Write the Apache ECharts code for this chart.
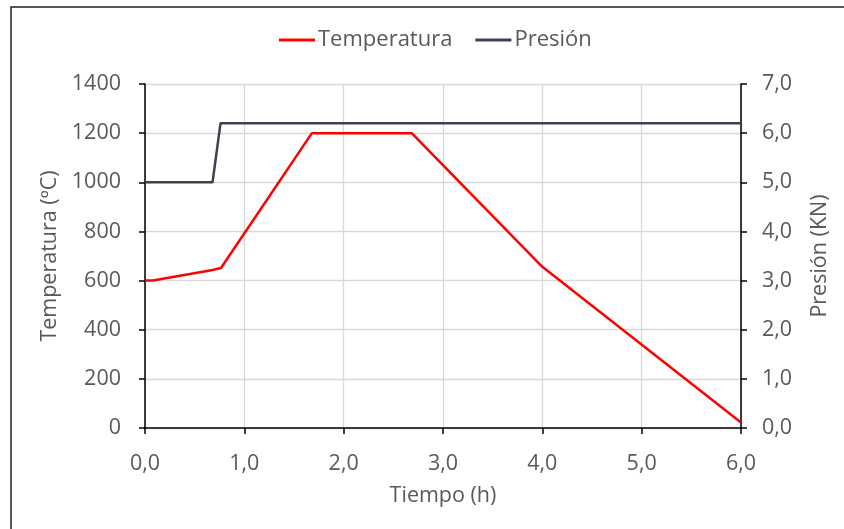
<!DOCTYPE html>
<html>
<head>
<meta charset="utf-8">
<script src="https://cdn.jsdelivr.net/npm/echarts@6/dist/echarts.min.js"></script>
<style>
html,body{margin:0;padding:0;background:#fff;}
#c{width:844px;height:529px;}
</style>
</head>
<body>
<div id="c"></div>
<script>
// Data
const tempTime   = [0.0, 0.08, 0.68, 0.70, 0.765, 1.68, 2.685, 4.0, 6.0];
const tempValues = [600, 600, 643, 651, 651, 1200, 1200, 656, 22];
const presTime   = [0.0, 0.68, 0.76, 6.0];
const presValues = [5.0, 5.0, 6.2, 6.2];
const seriesNames = ['Temperatura', 'Presión'];

const FONT = 'Open Sans';
const FS = 21.5;
const fmt1 = v => v.toFixed(1).replace('.', ',');
const fmt0 = v => String(Math.round(v));

const chart = echarts.init(document.getElementById('c'), null, {renderer: 'canvas'});
chart.setOption({
  animation: false,
  backgroundColor: '#fff',
  textStyle: {fontFamily: FONT},
  graphic: [{
    type: 'rect',
    shape: {x: 11, y: 7, width: 900, height: 600},
    style: {fill: 'none', stroke: '#222', lineWidth: 1.5},
    silent: true, z: -1
  }],
  legend: {
    data: seriesNames,
    top: 24,
    left: 274,
    icon: 'rect',
    itemWidth: 36,
    itemHeight: 3,
    itemGap: 23,
    textStyle: {fontFamily: FONT, fontSize: 22, color: '#595959', padding: [0, 0, 0, -2]}
  },
  grid: {left: 145, right: 103, top: 84, bottom: 101, containLabel: false},
  xAxis: {
    type: 'value',
    min: 0, max: 6, interval: 1,
    name: 'Tiempo (h)',
    nameLocation: 'middle',
    nameGap: 57,
    nameTextStyle: {fontFamily: FONT, fontSize: FS, color: '#595959'},
    axisLine: {show: true, onZero: false, lineStyle: {color: '#000', width: 1.5}},
    axisTick: {show: true, length: 6, lineStyle: {color: '#000', width: 1.5}},
    axisLabel: {formatter: fmt1, fontFamily: FONT, fontSize: FS, color: '#595959', margin: 25},
    splitLine: {show: true, lineStyle: {color: '#d9d9d9', width: 1.3}}
  },
  yAxis: [{
    type: 'value',
    min: 0, max: 1400, interval: 200,
    name: 'Temperatura (ºC)',
    nameLocation: 'middle',
    nameGap: 81,
    nameRotate: 90,
    nameTextStyle: {fontFamily: FONT, fontSize: FS, color: '#595959'},
    axisLine: {show: true, lineStyle: {color: '#000', width: 1.5}},
    axisTick: {show: true, length: 6, lineStyle: {color: '#000', width: 1.5}},
    axisLabel: {formatter: fmt0, fontFamily: FONT, fontSize: FS, color: '#595959', margin: 24},
    splitLine: {show: true, lineStyle: {color: '#d9d9d9', width: 1.3}}
  }, {
    type: 'value',
    min: 0, max: 7, interval: 1,
    position: 'right',
    name: 'Presión (KN)',
    nameLocation: 'middle',
    nameGap: 68,
    nameRotate: 90,
    nameTextStyle: {fontFamily: FONT, fontSize: FS, color: '#595959'},
    axisLine: {show: true, lineStyle: {color: '#000', width: 1.5}},
    axisTick: {show: true, length: 6, lineStyle: {color: '#000', width: 1.5}},
    axisLabel: {formatter: fmt1, fontFamily: FONT, fontSize: FS, color: '#595959', margin: 21},
    splitLine: {show: false}
  }],
  series: [{
    name: seriesNames[0],
    type: 'line',
    yAxisIndex: 0,
    symbol: 'none',
    data: tempTime.map((t, i) => [t, tempValues[i]]),
    lineStyle: {color: '#ff0000', width: 2.5},
    itemStyle: {color: '#ff0000'},
    z: 3
  }, {
    name: seriesNames[1],
    type: 'line',
    yAxisIndex: 1,
    symbol: 'none',
    data: presTime.map((t, i) => [t, presValues[i]]),
    lineStyle: {color: '#3f4050', width: 2.5},
    itemStyle: {color: '#3f4050'},
    z: 2
  }]
});
</script>
</body>
</html>
